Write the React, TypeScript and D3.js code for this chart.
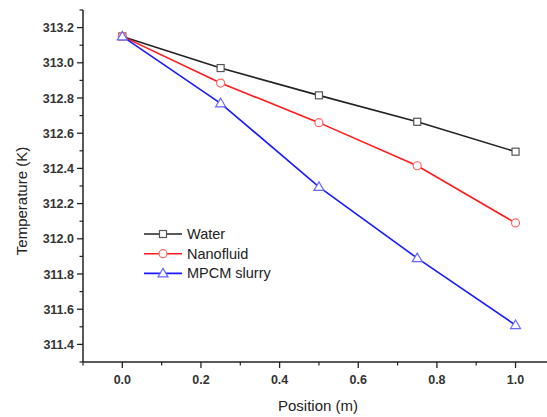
import React from "react";
import * as d3 from "d3";

const positions = [0, 0.25, 0.5, 0.75, 1.0];
const water = [313.15, 312.97, 312.815, 312.665, 312.495];
const nanofluid = [313.15, 312.885, 312.66, 312.415, 312.09];
const mpcm = [313.15, 312.77, 312.295, 311.89, 311.51];
const seriesNames = ["Water", "Nanofluid", "MPCM slurry"];
const xTicks = [0, 0.2, 0.4, 0.6, 0.8, 1.0];
const yTicks = [311.4, 311.6, 311.8, 312.0, 312.2, 312.4, 312.6, 312.8, 313.0, 313.2];

const W = 547, H = 417;
const left = 83, right = 547, top = 10, bottom = 362;

export default function App() {
  const x = d3.scaleLinear().domain([-0.1, 1.08]).range([left, right]);
  const y = d3.scaleLinear().domain([311.3, 313.3]).range([bottom, top]);
  const line = d3.line<number>().x((_, i) => x(positions[i])).y((v) => y(v));
  const series = [
    { name: seriesNames[0], data: water, line: "#222", mark: "#555", shape: "square" },
    { name: seriesNames[1], data: nanofluid, line: "#ff1a1a", mark: "#ff6666", shape: "circle" },
    { name: seriesNames[2], data: mpcm, line: "#1a1aff", mark: "#6666ff", shape: "triangle" },
  ];
  const marker = (shape: string, cx: number, cy: number, color: string, key: any) => {
    if (shape === "square")
      return <rect key={key} x={cx - 3.5} y={cy - 3.5} width={7} height={7} fill="#fff" stroke={color} strokeWidth={1.2} />;
    if (shape === "circle")
      return <circle key={key} cx={cx} cy={cy} r={4} fill="#fff" stroke={color} strokeWidth={1.2} />;
    return <path key={key} d={`M${cx},${cy - 5}L${cx + 5},${cy + 3.5}L${cx - 5},${cy + 3.5}Z`} fill="#fff" stroke={color} strokeWidth={1.2} />;
  };
  const xMinor = d3.range(-0.1, 1.081, 0.1).map((v) => Math.round(v * 10) / 10).filter((v) => !xTicks.some((t) => Math.abs(t - v) < 1e-6));
  const yMinor = d3.range(311.3, 313.31, 0.1).map((v) => Math.round(v * 10) / 10).filter((v) => !yTicks.some((t) => Math.abs(t - v) < 1e-6));
  const font = "Arial, 'Liberation Sans', sans-serif";
  return (
    <svg width={W} height={H} style={{ position: "absolute", left: 0, top: 0, background: "#fff" }} fontFamily={font}>
      {series.map((s) => (
        <path key={s.name} d={line(s.data) || ""} fill="none" stroke={s.line} strokeWidth={1.6} />
      ))}
      {series.map((s) => s.data.map((v, i) => marker(s.shape, x(positions[i]), y(v), s.mark, s.name + i)))}
      {/* axes */}
      <line x1={left} x2={left} y1={top} y2={bottom} stroke="#222" strokeWidth={1.5} />
      <line x1={left} x2={right} y1={bottom} y2={bottom} stroke="#222" strokeWidth={1.5} />
      {yTicks.map((t) => (
        <g key={t}>
          <line x1={left - 6} x2={left} y1={y(t)} y2={y(t)} stroke="#222" strokeWidth={1.3} />
          <text x={left - 9} y={y(t) + 4.5} textAnchor="end" fontSize={12.5} fontWeight="bold" fill="#333">{t.toFixed(1)}</text>
        </g>
      ))}
      {yMinor.map((t) => (
        <line key={t} x1={left - 3.5} x2={left} y1={y(t)} y2={y(t)} stroke="#222" strokeWidth={1.2} />
      ))}
      {xTicks.map((t) => (
        <g key={t}>
          <line x1={x(t)} x2={x(t)} y1={bottom} y2={bottom + 6} stroke="#222" strokeWidth={1.3} />
          <text x={x(t)} y={bottom + 22} textAnchor="middle" fontSize={12.5} fontWeight="bold" fill="#333">{t.toFixed(1)}</text>
        </g>
      ))}
      {xMinor.map((t) => (
        <line key={t} x1={x(t)} x2={x(t)} y1={bottom} y2={bottom + 3.5} stroke="#222" strokeWidth={1.2} />
      ))}
      <text x={318} y={411} textAnchor="middle" fontSize={15} fill="#222">Position (m)</text>
      <text transform={`translate(27,201) rotate(-90)`} textAnchor="middle" fontSize={15} fill="#222">Temperature (K)</text>
      {/* legend */}
      {series.map((s, i) => {
        const ly = 234 + i * 19.7;
        return (
          <g key={s.name}>
            <line x1={144} x2={182} y1={ly} y2={ly} stroke={s.line} strokeWidth={1.6} />
            {marker(s.shape, 163, ly, s.mark, "l" + i)}
            <text x={187} y={ly + 5} fontSize={14.5} fill="#222">{s.name}</text>
          </g>
        );
      })}
    </svg>
  );
}
